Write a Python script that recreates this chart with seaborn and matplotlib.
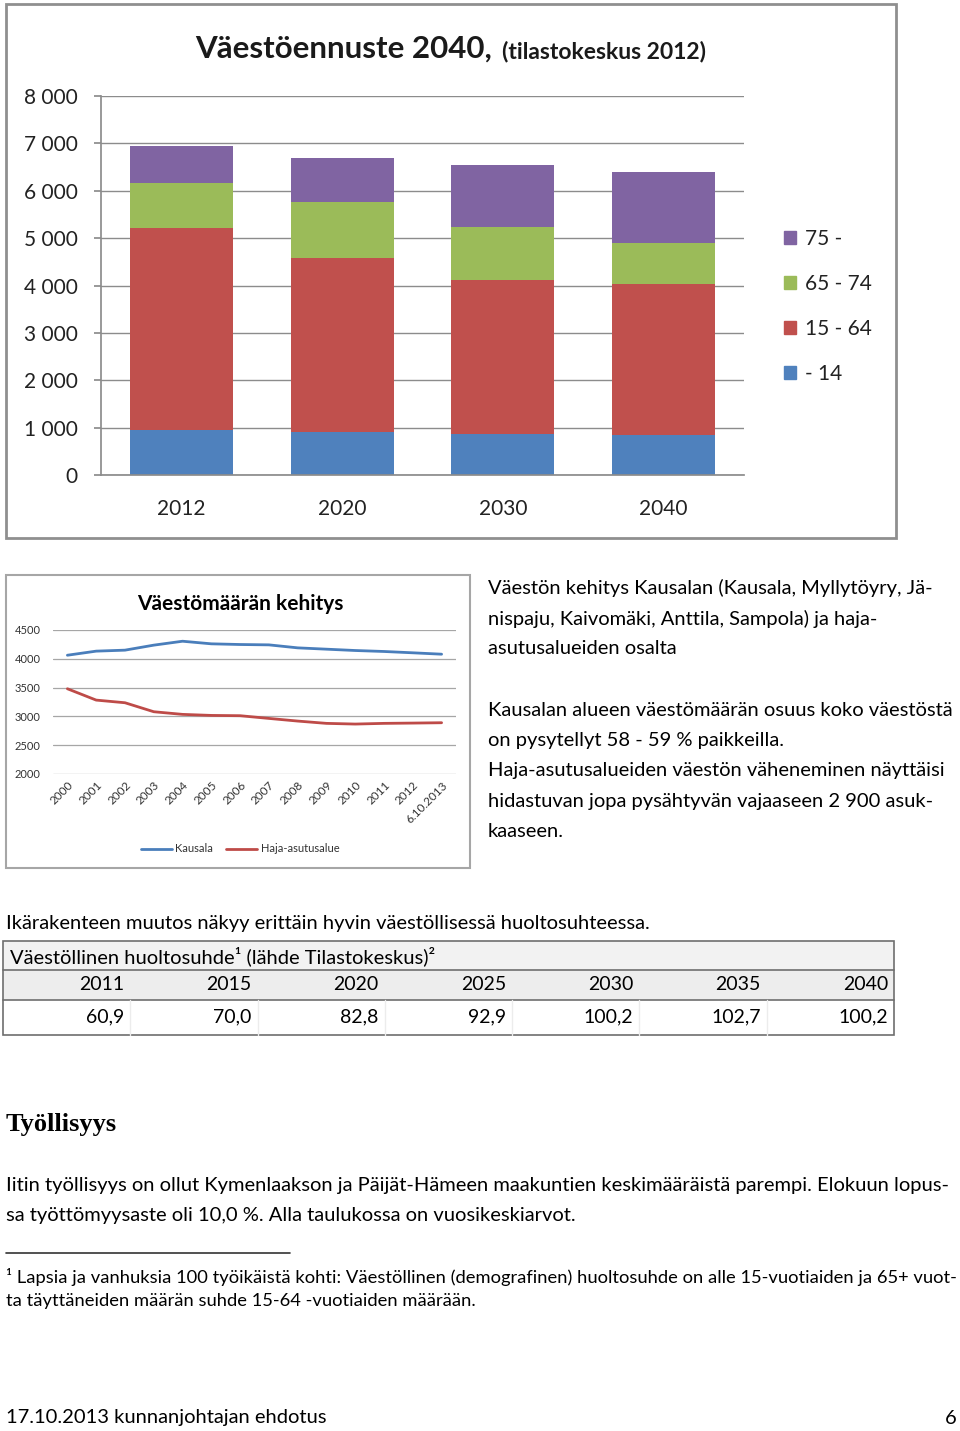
import matplotlib.pyplot as plt
import seaborn as sns
import numpy as np
import pandas as pd
from matplotlib.patches import Rectangle, Patch
from matplotlib.lines import Line2D

# --- data ---
ennuste_vuodet = ['2012', '2020', '2030', '2040']
ika_ryhmat = ['- 14', '15 - 64', '65 - 74', '75 -']
alle_15 = [960, 910, 855, 835]
ika_15_64 = [4250, 3670, 3265, 3195]
ika_65_74 = [950, 1190, 1105, 865]
yli_75 = [790, 930, 1325, 1500]
ryhma_varit = ['#4F81BD', '#C0504D', '#9BBB59', '#8064A2']

kehitys_vuodet = ['2000', '2001', '2002', '2003', '2004', '2005', '2006',
                  '2007', '2008', '2009', '2010', '2011', '2012', '6.10.2013']
kausala = [4062, 4133, 4150, 4237, 4305, 4260, 4248, 4242, 4190, 4167, 4144,
           4127, 4104, 4080]
haja = [3480, 3283, 3237, 3081, 3035, 3017, 3012, 2965, 2919, 2879, 2867,
        2879, 2884, 2890]

huolto_vuodet = ['2011', '2015', '2020', '2025', '2030', '2035', '2040']
huoltosuhde = ['60,9', '70,0', '82,8', '92,9', '100,2', '102,7', '100,2']

W, H = 960, 1431
BODY = 14.5

sns.set_theme(style='white')
plt.rcParams['font.family'] = ['Lato', 'DejaVu Sans']

fig = plt.figure(figsize=(W / 100, H / 100), dpi=100)


def rect(x0, y0, x1, y1):
    return [x0 / W, 1 - y1 / H, (x1 - x0) / W, (y1 - y0) / H]


def fx(x):
    return x / W


def fy(y):
    return 1 - y / H


def box(x0, y0, x1, y1, ec='#8c8c8c', fc='none', lw=1.0):
    fig.patches.append(Rectangle((fx(x0), fy(y1)), fx(x1 - x0), (y1 - y0) / H,
                                 transform=fig.transFigure, ec=ec, fc=fc, lw=lw))


def hline(x0, x1, y, color='#808080', lw=1.0):
    fig.add_artist(Line2D([fx(x0), fx(x1)], [fy(y), fy(y)], color=color, lw=lw,
                          transform=fig.transFigure))


def vline(x, y0, y1, color='#d0d0d0', lw=1.0):
    fig.add_artist(Line2D([fx(x), fx(x)], [fy(y0), fy(y1)], color=color, lw=lw,
                          transform=fig.transFigure))


def txt(x, y, s, size=BODY, **kw):
    kw.setdefault('va', 'center')
    kw.setdefault('color', 'black')
    fig.text(fx(x), fy(y), s, fontsize=size, **kw)


# --- stacked bar chart ---
box(6, 4, 896, 538, ec='#8f8f8f', lw=2)
ax = fig.add_axes(rect(101, 96, 744, 475))
kerrokset = [alle_15, ika_15_64, ika_65_74, yli_75]
kertyma = np.cumsum(np.array(kerrokset), axis=0)
for i in range(len(kerrokset) - 1, -1, -1):
    sns.barplot(x=ennuste_vuodet, y=kertyma[i], color=ryhma_varit[i],
                saturation=1, width=0.64, linewidth=0, ax=ax)
ax.set_ylim(0, 8000)
ax.set_xlim(-0.5, 3.5)
ax.set_yticks(range(0, 8001, 1000))
ax.set_yticklabels([f'{v:,}'.replace(',', ' ') for v in range(0, 8001, 1000)])
ax.yaxis.grid(True, color='#8c8c8c', lw=1)
ax.set_axisbelow(True)
for s in ['top', 'right']:
    ax.spines[s].set_visible(False)
for s in ['left', 'bottom']:
    ax.spines[s].set_color('#8c8c8c')
ax.tick_params(axis='y', length=5, color='#8c8c8c', pad=12, labelsize=15,
               left=True)
ax.tick_params(axis='x', length=0, pad=17, labelsize=15)
for lab in ax.get_xticklabels() + ax.get_yticklabels():
    lab.set_color('#222222')
ax.set_xlabel('')
ax.set_ylabel('')
handles = [Patch(color=ryhma_varit[i], label=ika_ryhmat[i]) for i in range(3, -1, -1)]
fig.legend(handles=handles, loc='upper left', bbox_to_anchor=(fx(765), fy(210)),
           frameon=False, fontsize=15, handlelength=0.6, handleheight=0.6,
           handletextpad=0.4, labelspacing=1.2, labelcolor='#222222')
fig.text(fx(195), fy(58), 'Väestöennuste 2040,', fontsize=22.5,
         fontweight='bold', va='baseline', color='#1a1a1a')
fig.text(fx(502), fy(58), '(tilastokeskus 2012)', fontsize=16.5,
         fontweight='bold', va='baseline', color='#1a1a1a')

# --- line chart ---
box(6, 575, 470, 868, ec='#a6a6a6', lw=1.5)
ax2 = fig.add_axes(rect(53, 630, 456, 774))
pos = np.arange(len(kehitys_vuodet))
sns.lineplot(x=pos, y=kausala, color='#4A7EBB', lw=2, ax=ax2)
sns.lineplot(x=pos, y=haja, color='#BE4B48', lw=2, ax=ax2)
ax2.set_xlim(-0.5, len(pos) - 0.5)
ax2.set_ylim(2000, 4500)
ax2.set_yticks(range(2000, 4501, 500))
ax2.set_xticks(pos)
ax2.set_xticklabels(kehitys_vuodet, rotation=45, ha='right',
                    rotation_mode='anchor')
ax2.yaxis.grid(True, color='#a6a6a6', lw=0.9)
for s in ax2.spines.values():
    s.set_visible(False)
ax2.tick_params(axis='y', length=0, pad=9, labelsize=8)
ax2.tick_params(axis='x', length=0, pad=4, labelsize=8.5)
for lab in ax2.get_xticklabels() + ax2.get_yticklabels():
    lab.set_color('#333333')
lh = [Line2D([], [], color='#4A7EBB', lw=2), Line2D([], [], color='#BE4B48', lw=2)]
fig.legend(lh, ['Kausala', 'Haja-asutusalue'], loc='center',
           bbox_to_anchor=(fx(240), fy(849)), ncol=2, frameon=False,
           fontsize=8, handlelength=2.8, columnspacing=1.2,
           handletextpad=0.3, labelcolor='#333333')
txt(240, 604, 'Väestömäärän kehitys', size=15, fontweight='bold', ha='center')

# --- right-side text ---
oikea = ['Väestön kehitys Kausalan (Kausala, Myllytöyry, Jä-',
         'nispaju, Kaivomäki, Anttila, Sampola) ja haja-',
         'asutusalueiden osalta']
for i, rivi in enumerate(oikea):
    txt(488, 588 + i * 30.5, rivi)
oikea2 = ['Kausalan alueen väestömäärän osuus koko väestöstä',
          'on pysytellyt 58 - 59 % paikkeilla.',
          'Haja-asutusalueiden väestön väheneminen näyttäisi',
          'hidastuvan jopa pysähtyvän vajaaseen 2 900 asuk-',
          'kaaseen.']
for i, rivi in enumerate(oikea2):
    txt(488, 710 + i * 30.5, rivi)

# --- table ---
txt(6, 924, 'Ikärakenteen muutos näkyy erittäin hyvin väestöllisessä huoltosuhteessa.')
box(3, 941, 894, 970, ec='none', fc='#f2f2f2')
box(3, 970, 894, 1000, ec='none', fc='#ededed')
box(3, 941, 894, 1035, ec='#6e6e6e', lw=1.2)
hline(3, 894, 970, color='#6e6e6e', lw=1.2)
hline(3, 894, 1000, color='#6e6e6e', lw=1.2)
col_w = (894 - 3) / len(huolto_vuodet)
for i in range(1, len(huolto_vuodet)):
    vline(3 + i * col_w, 1000, 1035, color='#ececec')
txt(10, 956, 'Väestöllinen huoltosuhde¹ (lähde Tilastokeskus)²')
for i, (v, s) in enumerate(zip(huolto_vuodet, huoltosuhde)):
    xr = 3 + (i + 1) * col_w - 6
    txt(xr, 985, v, size=14, ha='right')
    txt(xr, 1017, s, size=14, ha='right')

# --- employment text ---
txt(6, 1124, 'Työllisyys', size=19, fontweight='bold',
    family=['Liberation Serif', 'DejaVu Serif'])
txt(6, 1185, 'Iitin työllisyys on ollut Kymenlaakson ja Päijät-Hämeen maakuntien '
    'keskimääräistä parempi. Elokuun lopus-')
txt(6, 1215, 'sa työttömyysaste oli 10,0 %. Alla taulukossa on vuosikeskiarvot.')
hline(6, 290, 1253, color='#333333', lw=1.2)
txt(6, 1277, '¹ Lapsia ja vanhuksia 100 työikäistä kohti: Väestöllinen (demografinen) '
    'huoltosuhde on alle 15-vuotiaiden ja 65+ vuot-', size=13.2)
txt(6, 1301, 'ta täyttäneiden määrän suhde 15-64 -vuotiaiden määrään.', size=13.2)

# --- footer ---
txt(6, 1418, '17.10.2013 kunnanjohtajan ehdotus')
txt(957, 1418, '6', ha='right')

fig.savefig('out.png', dpi=100)
